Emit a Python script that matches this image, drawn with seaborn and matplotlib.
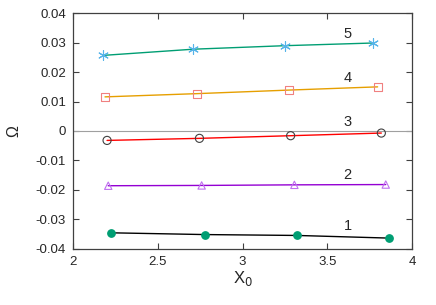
import numpy as np
import pandas as pd
import matplotlib
matplotlib.use("Agg")
import matplotlib.pyplot as plt
import seaborn as sns

# values
curve_ids = [1, 2, 3, 4, 5]
x1 = [2.224, 2.779, 3.323, 3.866]
y1 = [-0.0346, -0.0352, -0.0355, -0.0364]
x2 = [2.208, 2.759, 3.306, 3.845]
y2 = [-0.0186, -0.0185, -0.0183, -0.0182]
x3 = [2.201, 2.746, 3.284, 3.819]
y3 = [-0.0032, -0.0025, -0.0016, -0.0007]
x4 = [2.189, 2.733, 3.272, 3.797]
y4 = [0.0116, 0.0127, 0.0139, 0.0150]
x5 = [2.179, 2.710, 3.253, 3.768]
y5 = [0.0257, 0.0278, 0.0290, 0.0299]
label_x = 3.62
label_y = [-0.0323, -0.0150, 0.0030, 0.0180, 0.0330]

df = pd.concat([
    pd.DataFrame({"X0": x, "Omega": y, "curve": c})
    for c, x, y in zip(curve_ids, [x1, x2, x3, x4, x5], [y1, y2, y3, y4, y5])
], ignore_index=True)

sns.set_style("ticks")
plt.rcParams['font.family'] = ['Liberation Sans', 'DejaVu Sans']

line_colors = {1: "black", 2: "#9400d3", 3: "#ff0000", 4: "#e69f00", 5: "#009e73"}
mark_colors = {1: "#009e73", 2: "#c070f0", 3: "#404040", 4: "#f08080", 5: "#56b4e9"}
mark_style = {1: dict(marker="o", s=28, filled=True),
              2: dict(marker="^", s=28, filled=False),
              3: dict(marker="o", s=34, filled=False),
              4: dict(marker="s", s=32, filled=False),
              5: dict(marker="*", s=50, filled=True)}

fig = plt.figure(figsize=(4.36, 3.05), dpi=100)
ax = fig.add_axes([0.1674, 0.1846, 0.7776, 0.7718])

ax.axhline(0, color="#a0a0a0", lw=0.8, zorder=1)

for c in curve_ids:
    d = df[df["curve"] == c]
    sns.lineplot(data=d, x="X0", y="Omega", color=line_colors[c], lw=1.0,
                 ax=ax, zorder=2, legend=False)
    st = mark_style[c]
    if c == 5:
        ax.scatter(d["X0"], d["Omega"], marker=(6, 2, 0), s=st["s"],
                   color=mark_colors[c], lw=0.8, zorder=3)
    elif st["filled"]:
        ax.scatter(d["X0"], d["Omega"], marker=st["marker"], s=st["s"],
                   color=mark_colors[c], edgecolor=mark_colors[c], zorder=3)
    else:
        ax.scatter(d["X0"], d["Omega"], marker=st["marker"], s=st["s"],
                   facecolor="none", edgecolor=mark_colors[c], lw=0.8, zorder=3)

for c, ly in zip(curve_ids, label_y):
    ax.text(label_x, ly, str(c), fontsize=10.5, ha="center", va="center")

ax.set_xlim(2, 4)
ax.set_ylim(-0.04, 0.04)
ax.set_xticks([2, 2.5, 3, 3.5, 4])
ax.set_xticklabels(["2", "2.5", "3", "3.5", "4"])
ax.set_yticks(np.round(np.arange(-0.04, 0.0401, 0.01), 2))
ax.set_yticklabels(["-0.04", "-0.03", "-0.02", "-0.01", "0",
                    "0.01", "0.02", "0.03", "0.04"])
ax.tick_params(direction="in", top=True, right=True, length=4,
               width=0.8, labelsize=9.5, pad=5, color="#404040")
for s in ax.spines.values():
    s.set_color("#404040")
    s.set_linewidth(0.9)

ax.set_xlabel("X$_0$", fontsize=12, labelpad=1)
ax.set_ylabel("Ω", fontsize=11.5, labelpad=10)

fig.savefig("out.png", dpi=100)
